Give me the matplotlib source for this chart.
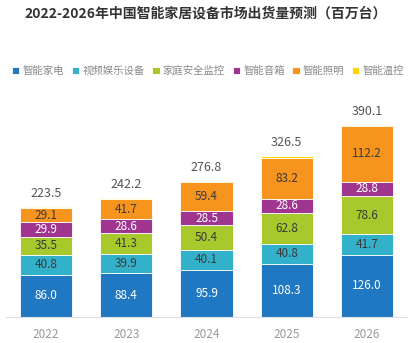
import numpy as np
import matplotlib
matplotlib.use("Agg")
import matplotlib.pyplot as plt

plt.rcParams['font.family'] = ['Noto Sans CJK SC', 'DejaVu Sans']

# dados
years = ["2022", "2023", "2024", "2025", "2026"]
series_names = ["智能家电", "视频娱乐设备", "家庭安全监控", "智能音箱", "智能照明", "智能温控"]
appliance = [86.0, 88.4, 95.9, 108.3, 126.0]
video = [40.8, 39.9, 40.1, 40.8, 41.7]
security = [35.5, 41.3, 50.4, 62.8, 78.6]
speaker = [29.9, 28.6, 28.5, 28.6, 28.8]
lighting = [29.1, 41.7, 59.4, 83.2, 112.2]
thermo = [2.2, 2.3, 2.5, 2.8, 2.8]
totals = [223.5, 242.2, 276.8, 326.5, 390.1]

colors = ["#1f78c1", "#33b1cb", "#a8c92b", "#a0358f", "#f7941d", "#ffd400"]
label_colors = ["white", "#3a3a3a", "#3a3a3a", "white", "#3a3a3a", None]

fig = plt.figure(figsize=(4.12, 3.43), dpi=100)
ax = fig.add_axes([6/412, 26/343, 401/412, 197/343])

x = np.arange(len(years))
data = [appliance, video, security, speaker, lighting, thermo]
bottom = np.zeros(len(years))
for vals, c, lc, name in zip(data, colors, label_colors, series_names):
    vals = np.array(vals)
    ax.bar(x, vals, 0.65, bottom=bottom, color=c, edgecolor="white", linewidth=0.6, label=name)
    if lc is not None:
        for xi, b, v in zip(x, bottom, vals):
            ax.text(xi, b + v/2, f"{v:.1f}", ha="center", va="center", fontsize=8.5, color=lc)
    bottom += vals

for xi, t in zip(x, totals):
    ax.text(xi, t + 14, f"{t:.1f}", ha="center", va="bottom", fontsize=9, color="#555555")

ax.set_xlim(-0.5, 4.5)
ax.set_ylim(0, 400)
ax.set_xticks(x)
ax.set_xticklabels(years, fontsize=8.5, color="#999999")
ax.tick_params(axis="x", length=0, pad=8)
ax.set_yticks([])
for s in ["top", "right", "left"]:
    ax.spines[s].set_visible(False)
ax.spines["bottom"].set_color("#dddddd")

fig.text(0.5, 1 - 14/343, "2022-2026年中国智能家居设备市场出货量预测（百万台）", ha="center", va="center",
         fontsize=10, fontweight="bold", color="#333333")

fig.legend(loc="center", bbox_to_anchor=(0.505, 1 - 71/343), ncol=6, frameon=False, fontsize=7.5,
           handlelength=0.7, handleheight=0.7, handletextpad=0.3, columnspacing=0.75, labelcolor="#888888")

fig.savefig("out.png", dpi=100)
